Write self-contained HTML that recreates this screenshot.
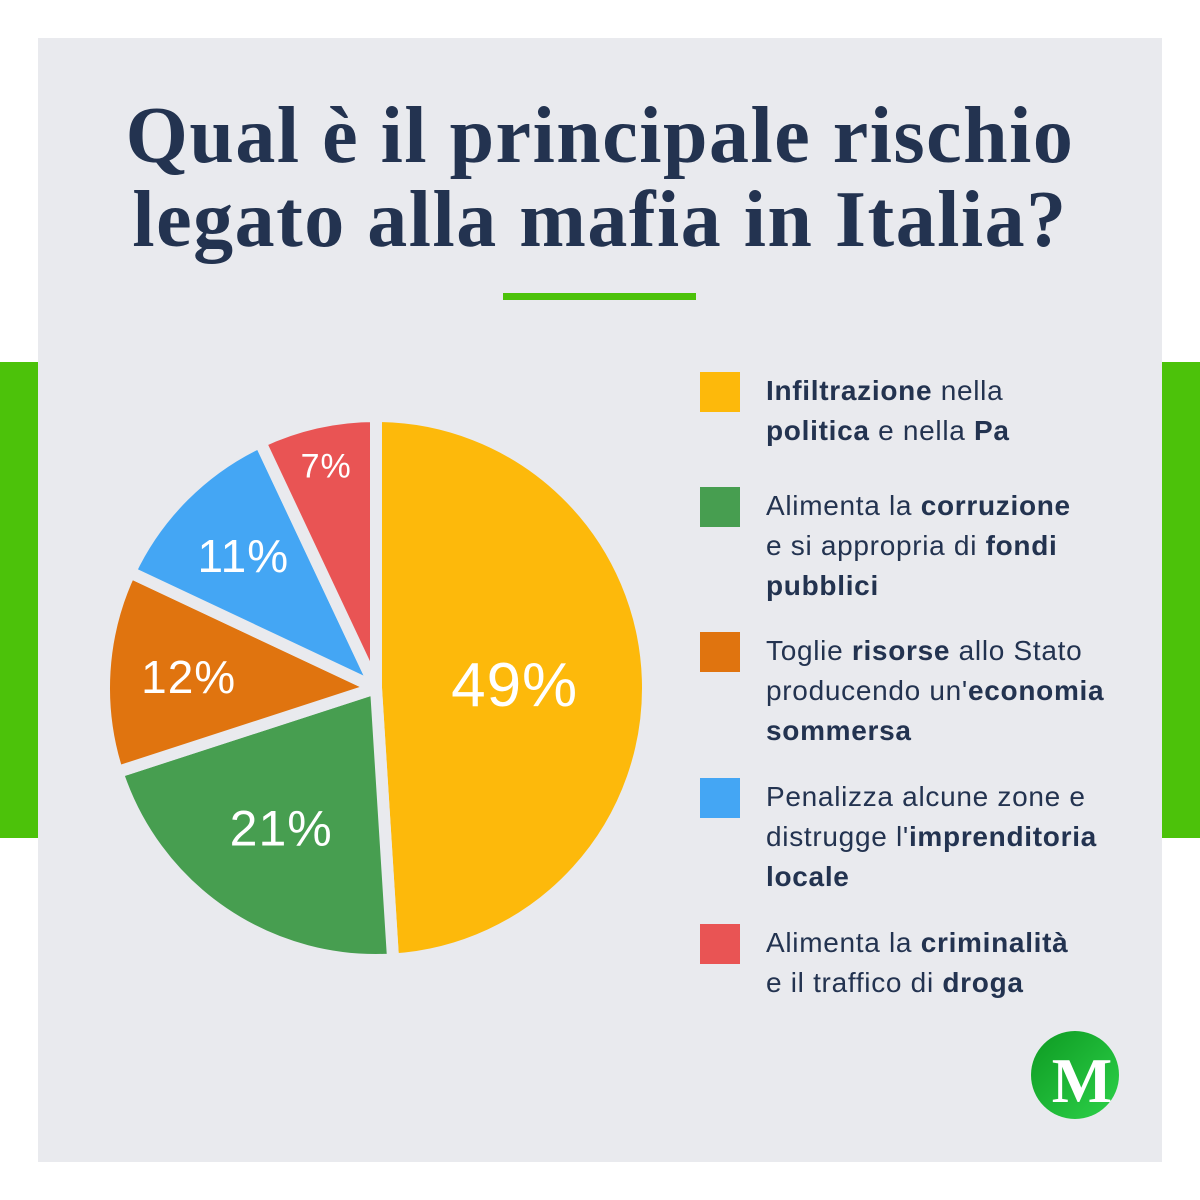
<!DOCTYPE html>
<html><head><meta charset="utf-8"><style>
body{margin:0;width:1200px;height:1200px;background:#fff;position:relative;overflow:hidden;font-family:"Liberation Sans",sans-serif}
.card{position:absolute;left:38px;top:38px;width:1124px;height:1124px;background:#e9eaee}
.bar{position:absolute;top:362px;width:38px;height:476px;background:#4cc20a}
h1{position:absolute;left:38px;width:1124px;top:94px;margin:0;text-align:center;font-family:"Liberation Serif",serif;font-weight:bold;font-size:80px;line-height:84px;letter-spacing:1.5px;color:#233350}
.rule{position:absolute;left:503px;top:293px;width:193px;height:7px;background:#4cc20a}
.leg{position:absolute;left:700px}
.sw{position:absolute;left:0;top:0;width:40px;height:40px}
.lt{position:absolute;left:66px;top:-1px;width:440px;font-size:28px;line-height:40px;letter-spacing:0.7px;color:#233350}
.lt b{font-weight:bold}
</style></head><body>
<div class="card"></div>
<div class="bar" style="left:0"></div>
<div class="bar" style="left:1162px"></div>
<h1>Qual è il principale rischio<br>legato alla mafia in Italia?</h1>
<div class="rule"></div>
<svg id="pie" width="1200" height="1200" style="position:absolute;left:0;top:0"></svg>
<div class="leg" style="top:372px"><div class="sw" style="background:#fdb90b"></div><div class="lt"><b>Infiltrazione</b> nella<br><b>politica</b> e nella <b>Pa</b></div></div>
<div class="leg" style="top:487px"><div class="sw" style="background:#479e50"></div><div class="lt">Alimenta la <b>corruzione</b><br>e si appropria di <b>fondi</b><br><b>pubblici</b></div></div>
<div class="leg" style="top:632px"><div class="sw" style="background:#e0740f"></div><div class="lt">Toglie <b>risorse</b> allo Stato<br>producendo un'<b>economia</b><br><b>sommersa</b></div></div>
<div class="leg" style="top:778px"><div class="sw" style="background:#44a6f4"></div><div class="lt">Penalizza alcune zone e<br>distrugge l'<b>imprenditoria</b><br><b>locale</b></div></div>
<div class="leg" style="top:924px"><div class="sw" style="background:#e95454"></div><div class="lt">Alimenta la <b>criminalità</b><br>e il traffico di <b>droga</b></div></div>
<svg width="90" height="90" style="position:absolute;left:1031px;top:1031px">
<defs><linearGradient id="g" x1="0" y1="0" x2="1" y2="1"><stop offset="0" stop-color="#0d9a22"/><stop offset="1" stop-color="#2ed24a"/></linearGradient></defs>
<circle cx="44" cy="44" r="44" fill="url(#g)"/>
<text x="51" y="71" text-anchor="middle" font-family="Liberation Serif,serif" font-weight="bold" font-size="64" fill="#fff">M</text>
</svg>
<script>
const categories=["Infiltrazione","Corruzione","Risorse","Imprenditoria","Criminalità"];
const values=[49,21,12,11,7];
const labels=["49%","21%","12%","11%","7%"];
const colors=["#fdb90b","#479e50","#e0740f","#44a6f4","#e95454"];
const svg=document.getElementById('pie');
const cx=376,cy=688,r=272;
const total=values.reduce((a,b)=>a+b,0);
function pt(a,rr){return [cx+rr*Math.sin(a),cy-rr*Math.cos(a)];}
let start=0;
values.forEach((v,i)=>{
 const sweep=v/total*2*Math.PI,end=start+sweep;
 const [x1,y1]=pt(start,r),[x2,y2]=pt(end,r);
 const p=document.createElementNS('http://www.w3.org/2000/svg','path');
 p.setAttribute('d',`M${cx},${cy}L${x1},${y1}A${r},${r} 0 ${sweep>Math.PI?1:0} 1 ${x2},${y2}Z`);
 p.setAttribute('fill',colors[i]);p.setAttribute('stroke','#e9eaee');p.setAttribute('stroke-width','12');p.setAttribute('stroke-linejoin','round');
 
 
 svg.appendChild(p);
 const mid=start+sweep/2;
 const rr=v>=40?0.51:(v<9?0.84:(v>=15?0.62:0.69));
 const fs=v>=40?62:(v<9?34:(v>=15?50:46));
 const [tx,ty]=pt(mid,r*rr);
 const t=document.createElementNS('http://www.w3.org/2000/svg','text');
 t.setAttribute('x',tx);t.setAttribute('y',ty+fs*0.36);t.setAttribute('text-anchor','middle');
 t.setAttribute('font-size',fs);t.setAttribute('fill','#fff');t.setAttribute('font-family','Liberation Sans,sans-serif');
 t.setAttribute('letter-spacing','1');
 t.textContent=labels[i];
 
 
 svg.appendChild(t);
 start=end;
});
</script>
</body></html>
